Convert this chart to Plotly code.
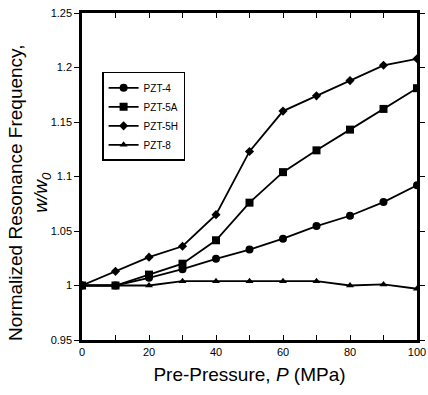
import plotly.graph_objects as go

pressure = [0, 10, 20, 30, 40, 50, 60, 70, 80, 90, 100]
pzt4 = [1.0, 1.0, 1.007, 1.015, 1.0245, 1.033, 1.043, 1.0545, 1.064, 1.0765, 1.092]
pzt5a = [1.0, 1.0, 1.010, 1.020, 1.0415, 1.076, 1.104, 1.124, 1.143, 1.162, 1.181]
pzt5h = [1.0, 1.013, 1.026, 1.036, 1.065, 1.123, 1.160, 1.174, 1.188, 1.202, 1.208]
pzt8 = [1.0, 1.0, 1.0, 1.004, 1.004, 1.004, 1.004, 1.004, 1.0, 1.001, 0.997]

series = [
    ("PZT-4", pzt4, "circle", 8),
    ("PZT-5A", pzt5a, "square", 8),
    ("PZT-5H", pzt5h, "diamond", 7),
    ("PZT-8", pzt8, "triangle-up", 7),
]

fig = go.Figure()
for name, vals, sym, sz in series:
    fig.add_trace(go.Scatter(
        x=pressure, y=vals, name=name, mode="lines+markers",
        line=dict(color="black", width=1.8),
        marker=dict(symbol=sym, size=sz, color="black"),
    ))

font = "Liberation Sans, Arial, sans-serif"
fig.update_layout(
    width=428, height=395,
    margin=dict(l=82, r=11, t=13, b=55),
    paper_bgcolor="white", plot_bgcolor="white",
    font=dict(family=font, color="black"),
    showlegend=True,
    legend=dict(
        x=0.06, y=0.82, xanchor="left", yanchor="top",
        bgcolor="white", bordercolor="black", borderwidth=1.5,
        font=dict(size=10, family=font),
        tracegroupgap=0, itemwidth=30,
    ),
    xaxis=dict(
        range=[0, 100], dtick=20, tick0=0, automargin=False,
        showline=True, linecolor="black", linewidth=2.5, mirror="allticks",
        ticks="inside", ticklen=5, tickcolor="black",
        minor=dict(dtick=10, ticks="inside", ticklen=5, tickcolor="black"),
        showgrid=False, zeroline=False,
        tickfont=dict(size=11),
        title=dict(text="Pre-Pressure, <i>P</i> (MPa)", font=dict(size=19), standoff=11),
    ),
    yaxis=dict(
        range=[0.95, 1.25], dtick=0.05, tick0=0.95, automargin=False,
        showline=True, linecolor="black", linewidth=2.5, mirror="allticks",
        ticks="outside", ticklen=5, tickcolor="black",
        showgrid=False, zeroline=False,
        tickfont=dict(size=11),
    ),
    annotations=[dict(
        text="Normalized Resonance Frequency,<br><i>w/w</i><sub><i>0</i></sub>",
        textangle=-90, xref="paper", yref="paper",
        x=-0.155, y=0.45, xanchor="center", yanchor="middle",
        showarrow=False, font=dict(size=19), align="center",
    )],
)

fig.write_html("out.html")
